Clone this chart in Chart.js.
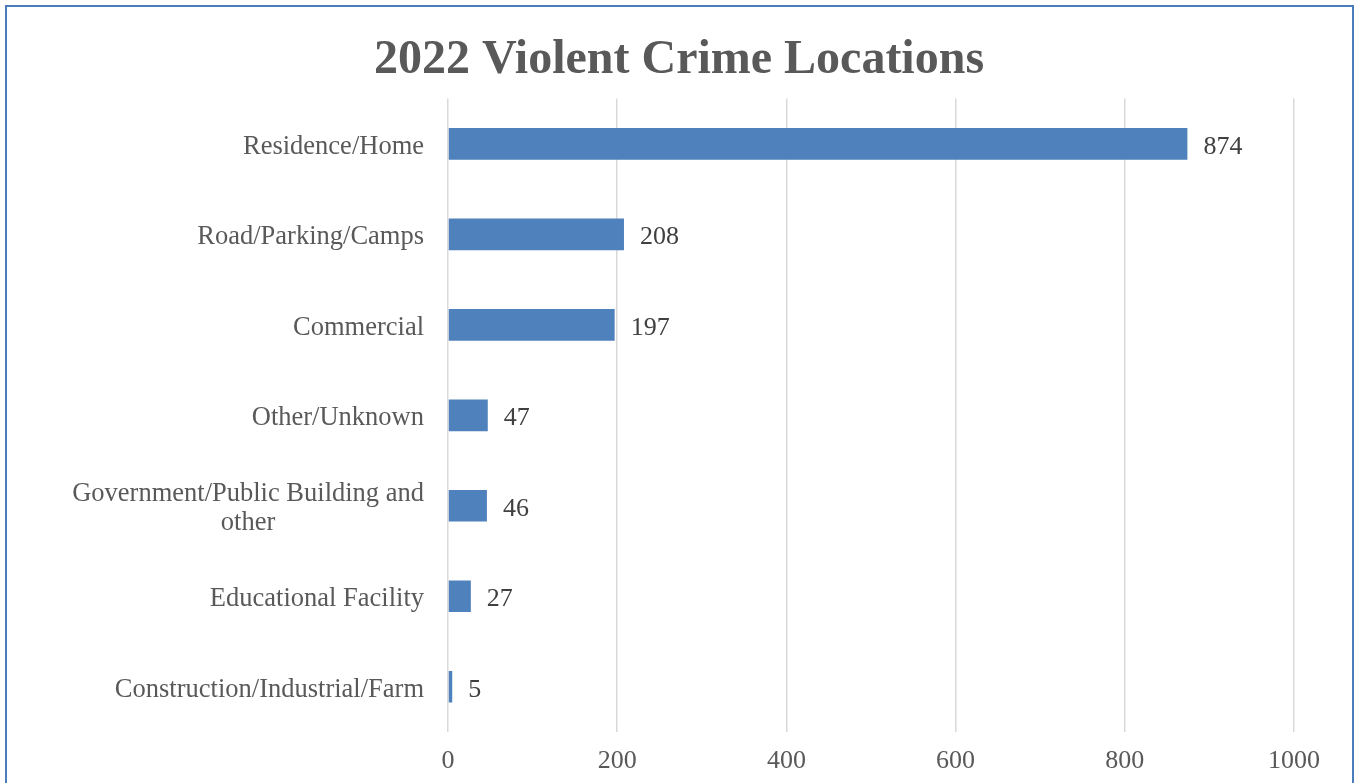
<!DOCTYPE html>
<html lang="en">
<head>
<meta charset="UTF-8">
<title>2022 Violent Crime Locations</title>
<script src="https://cdn.jsdelivr.net/npm/chart.js"></script>
<style>
    html, body { margin: 0; padding: 0; background: #fff; overflow: hidden; }
    #wrap { position: relative; width: 1354px; height: 783px; }
    #frame {
        position: absolute; left: 5px; top: 5px; width: 1345px; height: 900px;
        border: 2px solid #4a7ebb; pointer-events: none;
    }
</style>
</head>
<body>
<div id="wrap">
    <canvas id="grafico" width="1354" height="783"></canvas>
    <div id="frame"></div>
</div>
<script>
// dados do gráfico
var categorias = [
    'Residence/Home',
    'Road/Parking/Camps',
    'Commercial',
    'Other/Unknown',
    ['Government/Public Building and', 'other'],
    'Educational Facility',
    'Construction/Industrial/Farm'
];
var valores = [874, 208, 197, 47, 46, 27, 5];
var ticksX = [0, 200, 400, 600, 800, 1000];

var fonte = '"Liberation Serif", "Times New Roman", serif';
var corTexto = '#595959';

// rótulos das categorias (linhas centradas entre si, bloco alinhado à direita)
var rotulosY = {
    id: 'rotulosY',
    afterDraw: function (chart) {
        var ctx = chart.ctx;
        var y = chart.scales.y;
        ctx.save();
        ctx.font = '26.5px ' + fonte;
        ctx.fillStyle = corTexto;
        ctx.textBaseline = 'middle';
        ctx.textAlign = 'center';
        var xDir = chart.chartArea.left - 24;
        for (var i = 0; i < categorias.length; i++) {
            var linhas = Array.isArray(categorias[i]) ? categorias[i] : [categorias[i]];
            var py = y.getPixelForValue(i) + 3;
            var larg = 0;
            linhas.forEach(function (l) { larg = Math.max(larg, ctx.measureText(l).width); });
            var centro = xDir - larg / 2;
            for (var j = 0; j < linhas.length; j++) {
                var ly = py + (j - (linhas.length - 1) / 2) * 29;
                ctx.fillText(linhas[j], centro, ly);
            }
        }
        ctx.restore();
    }
};

// valores ao lado das barras
var rotulosValor = {
    id: 'rotulosValor',
    afterDatasetsDraw: function (chart) {
        var ctx = chart.ctx;
        var meta = chart.getDatasetMeta(0);
        ctx.save();
        ctx.font = '26px ' + fonte;
        ctx.fillStyle = '#404040';
        ctx.textAlign = 'left';
        ctx.textBaseline = 'middle';
        meta.data.forEach(function (bar, i) {
            ctx.fillText(valores[i], bar.x + 16, bar.y + 3);
        });
        ctx.restore();
    }
};

var ctx = document.getElementById('grafico').getContext('2d');
var myChart = new Chart(ctx, {
    type: 'bar',
    data: {
        labels: categorias,
        datasets: [{
            data: valores,
            backgroundColor: '#4f81bd',
            borderWidth: 0,
            categoryPercentage: 1,
            barPercentage: 0.35
        }]
    },
    options: {
        indexAxis: 'y',
        responsive: false,
        animation: false,
        layout: { padding: { left: 64, right: 60, top: 0, bottom: 0 } },
        plugins: {
            legend: { display: false },
            tooltip: { enabled: false },
            title: {
                display: true,
                text: '2022 Violent Crime Locations',
                color: corTexto,
                font: { family: fonte, size: 48, weight: 'bold' },
                padding: { top: 32, bottom: 9 }
            }
        },
        scales: {
            x: {
                min: 0,
                max: 1000,
                afterBuildTicks: function (s) { s.ticks = ticksX.map(function (v) { return { value: v }; }); },
                afterFit: function (s) { s.height = 51; },
                grid: { color: '#d9d9d9', lineWidth: 1.5, drawTicks: false },
                border: { display: false },
                ticks: {
                    color: corTexto,
                    font: { family: fonte, size: 26 },
                    padding: 14,
                    callback: function (v) { return String(v); }
                }
            },
            y: {
                afterFit: function (s) { s.width = 384; },
                grid: { display: false },
                border: { display: false },
                ticks: { display: false }
            }
        }
    },
    plugins: [rotulosY, rotulosValor]
});
</script>
</body>
</html>
